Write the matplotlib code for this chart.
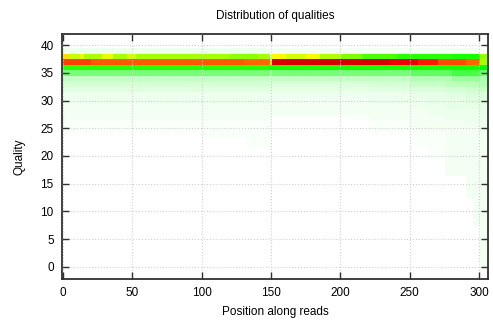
import numpy as np
import matplotlib.pyplot as plt
from matplotlib.colors import LinearSegmentedColormap, Normalize

plt.rcParams['font.family'] = ['Liberation Sans', 'DejaVu Sans']

n_pos = 306
n_qual = 42

# percent of reads at a given quality, as (first position, last position, percent)
q39 = [(0, 149, 0.8), (151, 300, 0.6)]
q38 = [(0, 4, 22.7), (5, 12, 17.8), (13, 15, 19.4), (16, 28, 16.7), (29, 36, 19.2),
       (37, 46, 16.5), (47, 52, 18.5), (53, 120, 16.5), (121, 140, 15.5), (141, 149, 16.5),
       (150, 150, 2.0), (151, 160, 20.5), (161, 175, 18.5), (176, 185, 19.5), (186, 200, 17.0),
       (201, 215, 15.0), (216, 240, 13.0), (241, 280, 11.5), (281, 300, 11.0), (301, 305, 16.0)]
q37 = [(0, 20, 35.0), (21, 130, 33.0), (131, 149, 32.0), (150, 150, 21.0),
       (151, 235, 47.0), (236, 255, 43.0), (256, 270, 38.0), (271, 290, 34.0),
       (291, 300, 32.0), (301, 305, 16.5)]
q36 = [(0, 149, 11.5), (150, 150, 10.0), (151, 300, 11.0), (301, 305, 10.0)]
q35 = [(0, 149, 5.5), (150, 150, 4.0), (151, 250, 5.5), (251, 280, 6.5), (281, 300, 7.5),
       (301, 305, 6.0)]
q34 = [(0, 149, 2.5), (150, 150, 2.0), (151, 250, 2.5), (251, 280, 3.2), (281, 300, 4.2),
       (301, 305, 3.5)]
bands = {39: q39, 38: q38, 37: q37, 36: q36, 35: q35, 34: q34}

# faint tail below the bands: (first pos, last pos, lowest quality seen, strength)
tail = [(0, 100, 25, 1.0), (101, 132, 24, 1.0), (133, 149, 22, 1.0), (150, 150, 3, 1.0),
        (151, 200, 28, 0.9), (201, 220, 27, 0.9), (221, 250, 25, 1.0), (251, 262, 22, 1.2),
        (263, 275, 20, 1.3), (276, 290, 17, 1.5), (291, 295, 13, 1.6), (296, 300, 8, 1.6),
        (301, 305, 0, 1.8)]
tail_pct = [1.8, 1.2, 0.9, 0.75, 0.65, 0.55, 0.5, 0.45, 0.4, 0.35]  # q33, q32, ...

grid = np.zeros((n_qual, n_pos))
for q, segs in bands.items():
    for a, b, v in segs:
        grid[q, a:b + 1] = v
for a, b, lo, s in tail:
    for q in range(33, lo - 1, -1):
        k = min(33 - q, len(tail_pct) - 1)
        grid[q, a:b + 1] = tail_pct[k] * s

cmap = LinearSegmentedColormap.from_list(
    'quals', [(0, 'white'), (10 / 60, '#00ff00'), (20 / 60, '#ffff00'),
              (40 / 60, '#ff0000'), (1, '#8b0000')])

fig = plt.figure(figsize=(4.93, 3.2), dpi=100)
ax = fig.add_axes([62 / 493, 1 - 279 / 320, 426 / 493, 245 / 320])
ax.imshow(grid, cmap=cmap, norm=Normalize(0, 60), origin='lower', aspect='auto',
          interpolation='nearest', extent=(-0.5, n_pos - 0.5, -0.5, n_qual - 0.5))
ax.set_xlim(-0.7, 306.5)
ax.set_ylim(-2.2, 42)
ax.set_xticks(np.arange(0, 301, 50))
ax.set_yticks(np.arange(0, 41, 5))
ax.grid(True, color='#d0d0d0', linestyle=':', linewidth=0.8)
ax.set_axisbelow(False)
ax.tick_params(direction='in', top=True, right=True, length=5, width=1, labelsize=8.5,
               color='#303030', pad=6)
for sp in ax.spines.values():
    sp.set_linewidth(1.3)
    sp.set_color('#303030')
ax.set_title('Distribution of qualities', fontsize=8.5, pad=11)
ax.set_xlabel('Position along reads', fontsize=8.5, labelpad=5)
ax.set_ylabel('Quality', fontsize=8.5, labelpad=11)

fig.savefig('out.png', dpi=100)
